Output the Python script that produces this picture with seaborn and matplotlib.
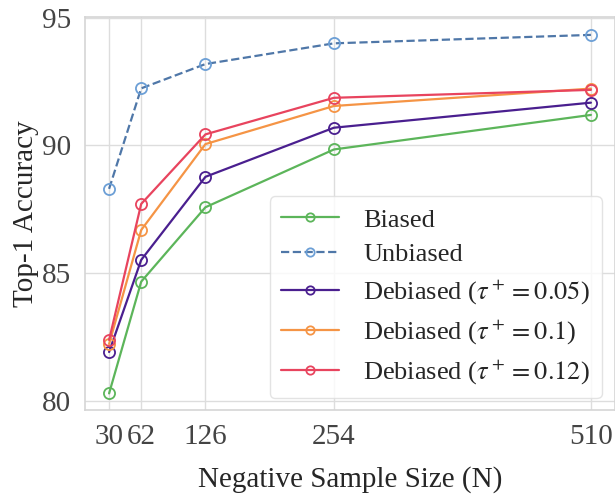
import numpy as np
import pandas as pd
import seaborn as sns
import matplotlib
matplotlib.use("Agg")
import matplotlib.pyplot as plt

# values
neg_sizes = [30, 62, 126, 254, 510]
biased = [80.30, 84.67, 87.58, 89.84, 91.19]
unbiased = [88.30, 92.23, 93.18, 93.99, 94.32]
debiased_005 = [81.92, 85.52, 88.77, 90.69, 91.67]
debiased_01 = [82.23, 86.69, 90.05, 91.54, 92.22]
debiased_012 = [82.39, 87.71, 90.43, 91.86, 92.17]

series_names = ["Biased", "Unbiased",
                r"Debiased ($\tau^+ = 0.05$)",
                r"Debiased ($\tau^+ = 0.1$)",
                r"Debiased ($\tau^+ = 0.12$)"]
series_values = [biased, unbiased, debiased_005, debiased_01, debiased_012]
line_colors = ["#5cb55a", "#4f77a8", "#4a1f8f", "#f59445", "#e8445e"]
marker_colors = ["#5cb55a", "#6c9fd6", "#4a1f8f", "#f59445", "#e8445e"]
line_styles = ["-", "--", "-", "-", "-"]

sns.set_theme(style="whitegrid")
plt.rcParams['font.family'] = ['Liberation Serif', 'DejaVu Serif']
plt.rcParams['mathtext.fontset'] = 'stix'

fig = plt.figure(figsize=(6.15, 4.95), dpi=100)
ax = fig.add_axes([85 / 615, 85 / 495, 530 / 615, 393 / 495])

for name, vals, lc, mc, ls in zip(series_names, series_values, line_colors,
                                  marker_colors, line_styles):
    df = pd.DataFrame({"N": neg_sizes, "acc": vals})
    sns.lineplot(data=df, x="N", y="acc", ax=ax, label=name, color=lc,
                 linestyle=ls, linewidth=1.6, marker="o", markersize=8,
                 markerfacecolor="none", markeredgecolor=mc,
                 markeredgewidth=1.3)

ax.set_xticks(neg_sizes)
ax.set_xticklabels([str(v) for v in neg_sizes])
ax.set_yticks([80, 85, 90, 95])
ax.set_xlim(6, 534)
ax.set_ylim(79.65, 95.02)

ax.tick_params(axis='both', labelsize=21, labelcolor='#444444', pad=4)
ax.set_xlabel("Negative Sample Size (N)", fontsize=21, labelpad=12)
ax.set_ylabel("Top-1 Accuracy", fontsize=21, labelpad=2)

for sp in ax.spines.values():
    sp.set_color('#d5d5d5')
    sp.set_linewidth(1.2)
ax.grid(color='#dddddd', linewidth=1.0)

leg = ax.legend(loc='lower right', bbox_to_anchor=(0.975, 0.03),
                borderaxespad=0, fontsize=19, handlelength=2.2,
                labelspacing=0.42, borderpad=0.45, handletextpad=0.9,
                markerscale=0.75, frameon=True, fancybox=True)
leg.get_frame().set_edgecolor('#dddddd')

fig.savefig("out.png", dpi=100)
